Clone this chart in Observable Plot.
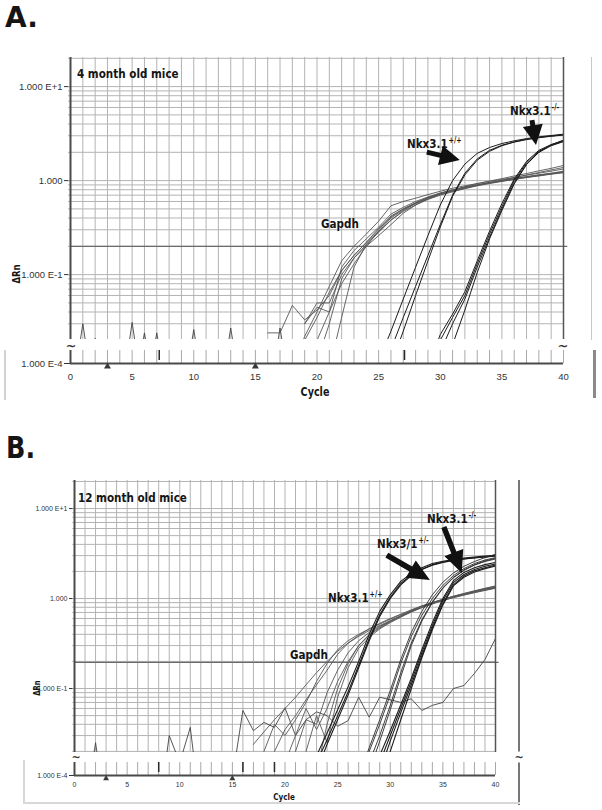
<!DOCTYPE html>
<html><head><meta charset="utf-8">
<script src="https://cdn.jsdelivr.net/npm/d3@7"></script>
<script src="https://cdn.jsdelivr.net/npm/@observablehq/plot@0.6"></script>
<style>
html,body{margin:0;padding:0;background:#fff;overflow:hidden}
#root{position:relative;width:602px;height:810px;background:#fff}
#root svg{position:absolute;left:0;overflow:visible}
.lbl{position:absolute;font-family:"DejaVu Sans";font-weight:bold;font-size:13px;line-height:13px;white-space:nowrap;color:#151515;transform:scaleX(0.8);transform-origin:0 0}
.lbl sup{font-size:8px;line-height:0;vertical-align:5px;margin-left:1px}
.big{position:absolute;font-family:"DejaVu Sans";font-weight:bold;color:#151515;white-space:nowrap}
.rot{position:absolute;font-family:"DejaVu Sans";font-weight:bold;white-space:nowrap;color:#151515;line-height:1;transform:translate(-50%,-50%) rotate(-90deg) scaleX(0.85)}
.cyc{position:absolute;font-family:"DejaVu Sans";font-weight:bold;white-space:nowrap;color:#151515;line-height:1;transform:translateX(-50%) scaleX(0.8)}
.tilde{position:absolute;font-family:"DejaVu Sans";font-weight:bold;font-size:13px;line-height:1;color:#333;transform:translate(-50%,-50%)}
.deco{position:absolute}
</style></head><body><div id="root"></div>
<script>
// ---------- axis ticks / labels ----------
const yMajorTicks = [0.1, 1, 10];
const yMajorLabels = ["1.000 E-1", "1.000", "1.000 E+1"];
const stripTick = [0.0001];
const stripTickLabel = ["1.000 E-4"];
const xTicks = [0, 5, 10, 15, 20, 25, 30, 35, 40];
const thresholdA = 0.2;
const thresholdB = 0.195;

// ---------- Panel A : 4 month old mice (each series: start cycle + ΔRn per cycle) ----------
const gapdhA = [
  {start: 18, values: [0.01, 0.022, 0.04, 0.075, 0.14, 0.2, 0.27, 0.37, 0.54, 0.6, 0.65, 0.71, 0.77, 0.83, 0.88, 0.93, 0.98, 1.03, 1.08, 1.14, 1.2, 1.26, 1.33]},
  {start: 19, values: [0.02, 0.035, 0.065, 0.11, 0.16, 0.22, 0.3, 0.42, 0.5, 0.58, 0.66, 0.73, 0.79, 0.85, 0.9, 0.95, 1.0, 1.05, 1.1, 1.15, 1.19, 1.24]},
  {start: 19, values: [0.03, 0.05, 0.05, 0.1, 0.15, 0.21, 0.28, 0.38, 0.48, 0.57, 0.65, 0.72, 0.78, 0.84, 0.89, 0.94, 0.99, 1.04, 1.09, 1.14, 1.18, 1.23]},
  {start: 20, values: [0.012, 0.03, 0.09, 0.15, 0.2, 0.26, 0.34, 0.45, 0.55, 0.64, 0.72, 0.79, 0.86, 0.93, 0.99, 1.05, 1.12, 1.19, 1.27, 1.35, 1.45]},
  {start: 20, values: [0.02, 0.04, 0.08, 0.13, 0.2, 0.29, 0.4, 0.49, 0.57, 0.64, 0.71, 0.77, 0.83, 0.89, 0.95, 1.01, 1.08, 1.15, 1.22, 1.3, 1.38]},
  {start: 19, values: [0.03, 0.045, 0.04, 0.12, 0.18, 0.24, 0.32, 0.44, 0.52, 0.6, 0.67, 0.74, 0.8, 0.85, 0.9, 0.95, 0.99, 1.03, 1.08, 1.12, 1.17, 1.21]},
  {start: 21, values: [0.01, 0.035, 0.12, 0.21, 0.29, 0.38, 0.47, 0.55, 0.63, 0.7, 0.76, 0.82, 0.88, 0.93, 0.98, 1.03, 1.08, 1.13, 1.18, 1.23]},
  {start: 16, values: [0.024, 0.024, 0.047, 0.033, 0.042, 0.06, 0.11, 0.16, 0.22, 0.31, 0.41, 0.5, 0.58, 0.66, 0.73, 0.79, 0.85, 0.9, 0.95, 1.0, 1.05, 1.1, 1.15, 1.2, 1.26]}
];
const nkxWtA = [
  {start: 25, values: [0.012, 0.025, 0.055, 0.12, 0.26, 0.55, 1.0, 1.5, 1.95, 2.25, 2.48, 2.65, 2.8, 2.92, 3.02, 3.12]},
  {start: 25, values: [0.007, 0.016, 0.035, 0.075, 0.16, 0.34, 0.7, 1.2, 1.7, 2.1, 2.38, 2.58, 2.75, 2.88, 2.98, 3.08]},
  {start: 25, values: [0.005, 0.011, 0.025, 0.06, 0.14, 0.32, 0.68, 1.15, 1.65, 2.05, 2.35, 2.57, 2.73, 2.86, 2.96, 3.05]}
];
const nkxKoA = [
  {start: 29, values: [0.008, 0.02, 0.035, 0.06, 0.13, 0.27, 0.53, 1.0, 1.55, 2.05, 2.38, 2.62]},
  {start: 29, values: [0.01, 0.023, 0.038, 0.066, 0.14, 0.29, 0.57, 1.04, 1.6, 2.1, 2.42, 2.66]},
  {start: 29, values: [0.006, 0.015, 0.03, 0.055, 0.12, 0.25, 0.5, 0.95, 1.5, 2.0, 2.35, 2.6]},
  {start: 29, values: [0.003, 0.008, 0.018, 0.042, 0.105, 0.24, 0.48, 0.92, 1.48, 2.0, 2.4, 2.7]}
];
const noiseA = [
  {start: 0, values: [0.004, 0.03, 0.004, 0.0001, 0.004, 0.031, 0.004, 0.0001, 0.004, 0.004, 0.026, 0.004, 0.004, 0.027, 0.004, 0.0001, 0.004, 0.027, 0.004]},
  {start: 1, values: [0.004, 0.021, 0.004, 0.0001, 0.004, 0.024, 0.004]},
  {start: 6, values: [0.004, 0.024, 0.004]}
];
const stripMarksA = [7.2, 27.1];
const stripTrianglesA = [3, 15];

// ---------- Panel B : 12 month old mice ----------
const gapdhB = [
  {start: 17, values: [0.024, 0.033, 0.045, 0.06, 0.08, 0.11, 0.15, 0.2, 0.26, 0.32, 0.38, 0.44, 0.5, 0.57, 0.64, 0.72, 0.8, 0.88, 0.96, 1.04, 1.11, 1.19, 1.26, 1.33]},
  {start: 19, values: [0.02, 0.035, 0.05, 0.075, 0.11, 0.16, 0.24, 0.32, 0.39, 0.46, 0.53, 0.6, 0.67, 0.75, 0.83, 0.9, 0.98, 1.06, 1.13, 1.21, 1.29, 1.37]},
  {start: 21, values: [0.02, 0.045, 0.04, 0.09, 0.16, 0.25, 0.34, 0.42, 0.49, 0.56, 0.64, 0.72, 0.8, 0.88, 0.96, 1.03, 1.1, 1.17, 1.24, 1.31]},
  {start: 22, values: [0.02, 0.05, 0.025, 0.08, 0.17, 0.28, 0.37, 0.46, 0.54, 0.62, 0.71, 0.8, 0.88, 0.96, 1.04, 1.11, 1.19, 1.27, 1.35]},
  {start: 20, values: [0.015, 0.03, 0.06, 0.035, 0.06, 0.12, 0.2, 0.3, 0.39, 0.47, 0.55, 0.63, 0.71, 0.79, 0.87, 0.95, 1.02, 1.09, 1.16, 1.23, 1.3]},
  {start: 23, values: [0.012, 0.04, 0.1, 0.19, 0.3, 0.4, 0.48, 0.56, 0.64, 0.73, 0.82, 0.9, 0.98, 1.06, 1.14, 1.22, 1.3, 1.38]},
  {start: 18, values: [0.02, 0.04, 0.03, 0.045, 0.07, 0.12, 0.19, 0.27, 0.34, 0.4, 0.46, 0.52, 0.59, 0.66, 0.74, 0.82, 0.9, 0.98, 1.05, 1.12, 1.19, 1.26, 1.32]}
];
const nkxWtB = [
  {start: 22, values: [0.01, 0.018, 0.032, 0.058, 0.105, 0.2, 0.4, 0.72, 1.1, 1.55, 1.9, 2.2, 2.45, 2.6, 2.72, 2.82, 2.9, 2.96, 3.02]},
  {start: 22, values: [0.008, 0.015, 0.027, 0.05, 0.092, 0.18, 0.36, 0.66, 1.03, 1.47, 1.83, 2.12, 2.38, 2.55, 2.67, 2.76, 2.84, 2.9, 2.95]},
  {start: 22, values: [0.007, 0.012, 0.024, 0.045, 0.085, 0.17, 0.34, 0.63, 1.0, 1.42, 1.8, 2.1, 2.35, 2.52, 2.65, 2.75, 2.83, 2.9, 2.97]}
];
const nkxHetB = [
  {start: 27, values: [0.008, 0.02, 0.04, 0.085, 0.19, 0.38, 0.65, 1.0, 1.4, 1.8, 2.15, 2.45, 2.68, 2.85]},
  {start: 27, values: [0.007, 0.015, 0.03, 0.065, 0.15, 0.32, 0.58, 0.92, 1.32, 1.72, 2.08, 2.38, 2.62, 2.8]},
  {start: 27, values: [0.005, 0.012, 0.026, 0.058, 0.135, 0.3, 0.56, 0.9, 1.3, 1.7, 2.05, 2.35, 2.58, 2.75]},
  {start: 27, values: [0.01, 0.022, 0.045, 0.095, 0.21, 0.42, 0.72, 1.1, 1.52, 1.92, 2.28, 2.58, 2.85, 3.1]}
];
const nkxKoB = [
  {start: 29, values: [0.015, 0.03, 0.06, 0.12, 0.25, 0.5, 0.95, 1.5, 1.85, 2.1, 2.28, 2.42]},
  {start: 29, values: [0.012, 0.026, 0.054, 0.11, 0.23, 0.47, 0.88, 1.42, 1.78, 2.03, 2.2, 2.35]},
  {start: 29, values: [0.018, 0.034, 0.066, 0.13, 0.27, 0.54, 1.0, 1.58, 1.95, 2.2, 2.38, 2.52]},
  {start: 29, values: [0.009, 0.02, 0.045, 0.1, 0.22, 0.45, 0.85, 1.38, 1.72, 1.97, 2.15, 2.3]}
];
const noiseB = [
  {start: 15, values: [0.01, 0.057, 0.034, 0.042, 0.037, 0.061, 0.03, 0.045, 0.055, 0.05, 0.038, 0.044, 0.08, 0.048, 0.08, 0.075, 0.07, 0.077, 0.057, 0.065, 0.07, 0.1, 0.108, 0.147, 0.21, 0.36]},
  {start: 1, values: [0.004, 0.025, 0.004]},
  {start: 8, values: [0.004, 0.03, 0.015, 0.037, 0.004]}
];
const stripMarksB = [8, 16, 19];
const stripTrianglesB = [3, 15];

// ---------- annotation arrows (cycle, ΔRn) ----------
const arrowsA = [
  {x1: 28.95, y1: 1.985, x2: 31.63, y2: 1.632},
  {x1: 37.48, y1: 4.35, x2: 37.81, y2: 2.357}
];
const arrowsB = [
  {x1: 29.72, y1: 3.0, x2: 33.81, y2: 1.585},
  {x1: 35.14, y1: 6.16, x2: 36.85, y2: 1.895}
];

// ---------- helpers ----------
const rowsOf = (series, group) => series.flatMap((s, k) =>
  s.values.map((v, i) => ({id: group + k, cycle: s.start + i, value: v})));
const majorFmt = new Map(yMajorTicks.map((t, i) => [t, yMajorLabels[i]]));
const stripFmt = new Map(stripTick.map((t, i) => [t, stripTickLabel[i]]));
const cycles = d3.range(0, 41);

function arrowMark(list, hl, hw, sw) {
  return (index, scales) => {
    const ns = "http://www.w3.org/2000/svg";
    const g = document.createElementNS(ns, "g");
    for (const a of list) {
      const x1 = scales.x(a.x1), y1 = scales.y(a.y1), x2 = scales.x(a.x2), y2 = scales.y(a.y2);
      const dx = x2 - x1, dy = y2 - y1, len = Math.hypot(dx, dy);
      const ux = dx / len, uy = dy / len, px = -uy, py = ux;
      const L = Math.min(hl, len * 0.9);
      const bx = x2 - ux * L, by = y2 - uy * L;
      const pts = [[x1 + px * sw / 2, y1 + py * sw / 2], [bx + px * sw / 2, by + py * sw / 2], [bx + px * hw, by + py * hw],
        [x2, y2], [bx - px * hw, by - py * hw], [bx - px * sw / 2, by - py * sw / 2], [x1 - px * sw / 2, y1 - py * sw / 2]];
      const p = document.createElementNS(ns, "path");
      p.setAttribute("d", "M" + pts.map(q => q[0].toFixed(1) + "," + q[1].toFixed(1)).join("L") + "Z");
      p.setAttribute("fill", "#111");
      g.appendChild(p);
    }
    return g;
  };
}

function mainPlot({height, marginTop, marginLeft, marginRight, yDomain, groups, threshold, arrows, fontSize, tickSize, hl, hw, sw}) {
  const grid = d3.scaleLog().domain(yDomain).ticks();
  const marks = [
    Plot.ruleX(cycles, {stroke: "#b3b3b3", strokeWidth: 1}),
    Plot.ruleY(grid, {x1: -0.16, x2: 40, stroke: "#b3b3b3", strokeWidth: 1}),
    Plot.ruleY([threshold], {x1: 0, x2: 40.35, stroke: "#6a6a6a", strokeWidth: 1.3})
  ];
  for (const g of groups) {
    marks.push(Plot.line(g.rows, {x: "cycle", y: "value", z: "id", stroke: g.color, strokeWidth: g.width, clip: true}));
  }
  marks.push(Plot.ruleX([0], {stroke: "#4a4a4a", strokeWidth: 2}));
  marks.push(Plot.ruleX([40], {stroke: "#555", strokeWidth: 1.5}));
  marks.push(arrowMark(arrows, hl, hw, sw));
  return Plot.plot({
    width: 602, height, marginTop, marginBottom: 0, marginLeft, marginRight,
    style: {background: "transparent", fontFamily: "Liberation Sans", fontSize: fontSize + "px", color: "#333", overflow: "visible"},
    x: {domain: [0, 40], axis: null},
    y: {type: "log", domain: yDomain, ticks: yMajorTicks, tickFormat: d => majorFmt.get(d), tickSize, tickPadding: 2, label: null},
    marks
  });
}

function stripPlot({height, marginTop, marginBottom, marginLeft, marginRight, marks: extra, tris, fontSize, tickSize, tickPadding, triR}) {
  return Plot.plot({
    width: 602, height, marginTop, marginBottom, marginLeft, marginRight,
    style: {background: "transparent", fontFamily: "Liberation Sans", fontSize: fontSize + "px", color: "#333", overflow: "visible"},
    x: {domain: [0, 40], ticks: xTicks, tickSize: 0, tickPadding, label: null},
    y: {type: "log", domain: [0.0001, 0.0002], ticks: stripTick, tickFormat: d => stripFmt.get(d), tickSize, tickPadding: 2, label: null},
    marks: [
      Plot.ruleX(cycles, {stroke: "#a8a8a8", strokeWidth: 1}),
      Plot.ruleX(extra, {stroke: "#2a2a2a", strokeWidth: 1.5, insetBottom: 3}),
      Plot.ruleY(stripTick, {stroke: "#4a4a4a", strokeWidth: 2}),
      Plot.ruleX([0], {stroke: "#4a4a4a", strokeWidth: 2}),
      Plot.dot(tris, {x: d => d, y: () => stripTick[0], symbol: "triangle", r: triR, fill: "#3a3a3a", stroke: "none", dy: 3})
    ]
  });
}

const root = document.getElementById("root");
function place(node, top) { node.style.top = top + "px"; root.appendChild(node); }

// Panel A
place(mainPlot({
  height: 339, marginTop: 57, marginLeft: 70, marginRight: 39, yDomain: [0.0204, 20.4],
  groups: [
    {rows: rowsOf(noiseA, "nA"), color: "#444", width: 0.9},
    {rows: rowsOf(gapdhA, "gA"), color: "#575757", width: 0.9},
    {rows: rowsOf(nkxWtA, "wA"), color: "#1c1c1c", width: 1},
    {rows: rowsOf(nkxKoA, "kA"), color: "#1c1c1c", width: 1}
  ],
  threshold: thresholdA, arrows: arrowsA, fontSize: 9.5, tickSize: 6, hl: 20, hw: 10, sw: 5
}), 0);
place(stripPlot({height: 60, marginTop: 10, marginBottom: 37, marginLeft: 70, marginRight: 39,
  marks: stripMarksA, tris: stripTrianglesA, fontSize: 9.5, tickSize: 6, tickPadding: 10, triR: 2.6}), 340);

// Panel B
place(mainPlot({
  height: 282, marginTop: 10, marginLeft: 74, marginRight: 107, yDomain: [0.01945, 20.5],
  groups: [
    {rows: rowsOf(noiseB, "nB"), color: "#444", width: 0.9},
    {rows: rowsOf(gapdhB, "gB"), color: "#575757", width: 0.9},
    {rows: rowsOf(nkxWtB, "wB"), color: "#1c1c1c", width: 1.1},
    {rows: rowsOf(nkxHetB, "hB"), color: "#2a2a2a", width: 0.9},
    {rows: rowsOf(nkxKoB, "kB"), color: "#1c1c1c", width: 1.1}
  ],
  threshold: thresholdB, arrows: arrowsB, fontSize: 7, tickSize: 5, hl: 22, hw: 10, sw: 5.5
}), 470);
place(stripPlot({height: 50, marginTop: 10, marginBottom: 27, marginLeft: 74, marginRight: 107,
  marks: stripMarksB, tris: stripTrianglesB, fontSize: 7, tickSize: 5, tickPadding: 7, triR: 2.2}), 752);

// ---------- decorations & text ----------
function div(cls, html, style) {
  const d = document.createElement("div");
  d.className = cls; d.innerHTML = html;
  Object.assign(d.style, style);
  root.appendChild(d);
  return d;
}
div("deco", "", {left: "4px", top: "350px", width: "2px", height: "50px", background: "#d2d2d2"});
div("deco", "", {left: "591px", top: "57px", width: "1px", height: "283px", background: "#c8c8c8"});
div("deco", "", {left: "593px", top: "350px", width: "3px", height: "48px", background: "#8a8a8a"});
div("deco", "", {left: "518px", top: "480px", width: "2px", height: "325px", background: "#777"});
div("deco", "", {left: "23px", top: "760px", width: "2px", height: "44px", background: "#d8d8d8"});
div("deco", "", {left: "23px", top: "802px", width: "497px", height: "2px", background: "#d8d8d8"});

div("tilde", "~", {left: "71px", top: "345px"});
div("tilde", "~", {left: "563px", top: "345px"});
div("tilde", "~", {left: "76px", top: "757px", fontSize: "11px"});
div("tilde", "~", {left: "519px", top: "757px", fontSize: "11px", background: "#fff"});

div("big", "A.", {left: "5px", top: "4px", fontSize: "28px", lineHeight: "28px"});
div("big", "B.", {left: "6px", top: "433px", fontSize: "30px", lineHeight: "30px", transform: "scaleX(0.85)", transformOrigin: "0 0"});

div("lbl", "4 month old mice", {left: "77px", top: "67px"});
div("lbl", "Gapdh", {left: "321px", top: "217px"});
div("lbl", "Nkx3.1<sup>+/+</sup>", {left: "407px", top: "137px"});
div("lbl", "Nkx3.1<sup>-/-</sup>", {left: "510px", top: "104px"});
div("rot", "ΔRn", {left: "17px", top: "274px", fontSize: "10px"});
div("cyc", "Cycle", {left: "315px", top: "386px", fontSize: "12px"});

div("lbl", "12 month old mice", {left: "78px", top: "491px"});
div("lbl", "Nkx3.1<sup>+/+</sup>", {left: "328px", top: "591px"});
div("lbl", "Gapdh", {left: "290px", top: "648px"});
div("lbl", "Nkx3/1<sup>+/-</sup>", {left: "377px", top: "537px"});
div("lbl", "Nkx3.1<sup>-/-</sup>", {left: "427px", top: "512px"});
div("rot", "ΔRn", {left: "38px", top: "688px", fontSize: "8px"});
div("cyc", "Cycle", {left: "284px", top: "793px", fontSize: "9px"});
</script>
</body></html>
